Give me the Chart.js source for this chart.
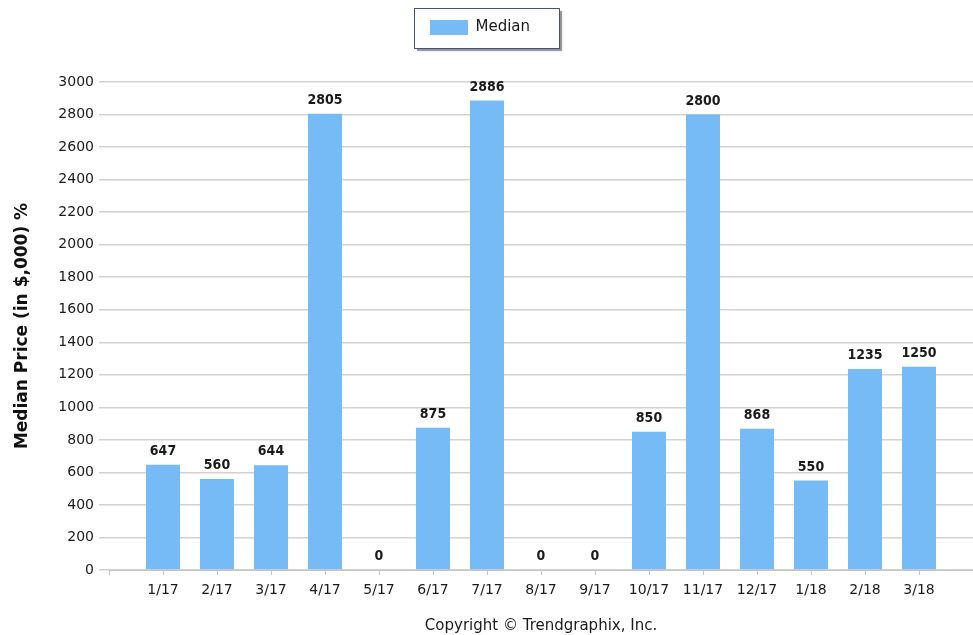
<!DOCTYPE html>
<html>
<head>
<meta charset="utf-8">
<script src="https://cdn.jsdelivr.net/npm/chart.js@4"></script>
<style>
  html, body { margin: 0; padding: 0; background: #fff; }
  #wrap { width: 973px; height: 635px; position: relative; }
</style>
</head>
<body>
<div id="wrap"><canvas id="medianChart"></canvas></div>
<script>
// months shown on the x axis
var months = ['1/17', '2/17', '3/17', '4/17', '5/17', '6/17', '7/17', '8/17',
  '9/17', '10/17', '11/17', '12/17', '1/18', '2/18', '3/18'];
// median price in $,000
var medianPrice = [647, 560, 644, 2805, 0, 875, 2886, 0, 0, 850, 2800, 868, 550, 1235, 1250];
var yTicks = { min: 0, max: 3000, step: 200 };

// one empty slot each side, like the original axis
var labels = [''].concat(months, ['']);
var values = [null].concat(medianPrice, [null]);

var barLabels = {
  id: 'barLabels',
  afterDatasetsDraw: function (chart) {
    var ctx = chart.ctx;
    var meta = chart.getDatasetMeta(0);
    ctx.save();
    ctx.font = 'bold 14px "DejaVu Sans Condensed", "DejaVu Sans", sans-serif';
    ctx.fillStyle = '#1a1a1a';
    ctx.textAlign = 'center';
    ctx.textBaseline = 'alphabetic';
    meta.data.forEach(function (bar, i) {
      var v = chart.data.datasets[0].data[i];
      if (v === null) return;
      ctx.fillText(String(v), bar.x, bar.y - 10);
    });
    ctx.restore();
  }
};

// legend sits a little left of centre in the original, inside a framed box
var legendFrame = {
  id: 'legendFrame',
  afterUpdate: function (chart) {
    var lg = chart.legend;
    if (!lg || !lg.legendHitBoxes || !lg.legendHitBoxes.length) return;
    var dx = 430 - lg.legendHitBoxes[0].left;
    lg.left += dx;
    lg.right += dx;
    lg.legendHitBoxes.forEach(function (hb) { hb.left += dx; });
  },
  beforeDraw: function (chart) {
    var x = 414, y = 8, w = 145, h = 40;
    var ctx = chart.ctx;
    ctx.save();
    ctx.fillStyle = 'rgba(60,60,60,0.45)';
    ctx.shadowColor = 'rgba(0,0,0,0.35)';
    ctx.shadowBlur = 2;
    ctx.fillRect(x + 3, y + 3, w, h);
    ctx.shadowColor = 'transparent';
    ctx.fillStyle = '#fff';
    ctx.fillRect(x, y, w, h);
    ctx.strokeStyle = '#45557a';
    ctx.lineWidth = 1;
    ctx.strokeRect(x + 0.5, y + 0.5, w, h);
    ctx.restore();
  }
};

var ctx = document.getElementById('medianChart');
var medianChart = new Chart(ctx, {
  type: 'bar',
  data: {
    labels: labels,
    datasets: [{
      label: 'Median',
      data: values,
      backgroundColor: '#76bbf5',
      borderWidth: 0,
      categoryPercentage: 1,
      barPercentage: 0.63
    }]
  },
  options: {
    responsive: true,
    maintainAspectRatio: false,
    animation: false,
    layout: { padding: { top: 0, left: 0, right: 0, bottom: 0 } },
    plugins: {
      tooltip: { enabled: false },
      legend: {
        display: true,
        position: 'top',
        labels: {
          boxWidth: 38,
          boxHeight: 15,
          padding: 20,
          color: '#1a1a1a',
          font: { family: '"DejaVu Sans", sans-serif', size: 15 }
        }
      },
      // empty spacer between the legend and the plot
      subtitle: {
        display: true,
        text: '',
        weight: 500,
        font: { size: 10, lineHeight: 1.2 },
        padding: { top: 25, bottom: 0 }
      }
    },
    scales: {
      x: {
        offset: false,
        grid: { offset: false, drawOnChartArea: false, drawTicks: true, tickLength: 5, color: '#c4c4c4' },
        border: { display: true, color: '#c4c4c4' },
        ticks: {
          autoSkip: false,
          maxRotation: 0,
          padding: 0,
          color: '#1a1a1a',
          font: { family: '"DejaVu Sans", sans-serif', size: 14, lineHeight: '30px' }
        },
        title: {
          display: true,
          text: 'Copyright © Trendgraphix, Inc.',
          color: '#1a1a1a',
          font: { family: '"DejaVu Sans", sans-serif', size: 15 },
          padding: { top: 0, bottom: 0 }
        },
        afterFit: function (s) { s.height = 65; }
      },
      y: {
        min: yTicks.min,
        max: yTicks.max,
        grid: { color: '#d2d2d2', lineWidth: 1.5, tickLength: 10, drawTicks: true },
        border: { display: false },
        ticks: {
          stepSize: yTicks.step,
          padding: 5,
          color: '#1a1a1a',
          font: { family: '"DejaVu Sans", sans-serif', size: 14 },
          callback: function (v) { return String(v); }
        },
        title: {
          display: true,
          text: 'Median Price (in $,000) %',
          color: '#111',
          font: { family: '"DejaVu Sans", sans-serif', size: 17, weight: 'bold' },
          padding: { top: 12, bottom: 0 }
        },
        afterFit: function (s) { s.width = 109; }
      }
    }
  },
  plugins: [legendFrame, barLabels]
});
</script>
</body>
</html>
